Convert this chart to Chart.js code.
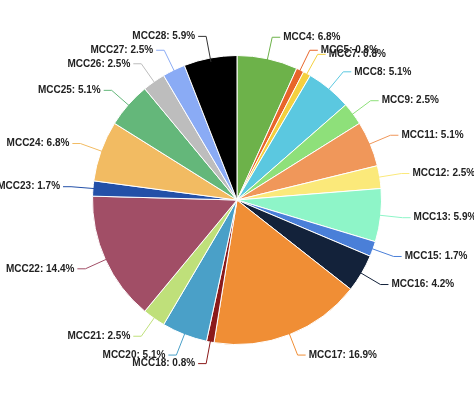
<!DOCTYPE html>
<html><head><script src="https://cdn.jsdelivr.net/npm/chart.js@4"></script>
<style>body{margin:0;background:#fff}#w{width:474px;height:408px}</style></head>
<body><div id="w"><canvas id="c"></canvas></div>
<script>
const labels=["MCC4","MCC5","MCC7","MCC8","MCC9","MCC11","MCC12","MCC13","MCC15","MCC16","MCC17","MCC18","MCC20","MCC21","MCC22","MCC23","MCC24","MCC25","MCC26","MCC27","MCC28"];
const counts=[8,1,1,6,3,6,3,7,2,5,20,1,6,3,17,2,8,6,3,3,7];
const pct=["6.8%","0.8%","0.8%","5.1%","2.5%","5.1%","2.5%","5.9%","1.7%","4.2%","16.9%","0.8%","5.1%","2.5%","14.4%","1.7%","6.8%","5.1%","2.5%","2.5%","5.9%"];
const colors=["#6db24a","#e8652a","#f4d03f","#5bc8e0","#8ee07a","#f0975a","#fbe97a","#8ef5c8","#4a7fd8","#13223a","#f08e35","#8b1a1a","#4aa0c8","#bfe07a","#a14e66","#2350a8","#f2bb62","#64b77a","#bdbdbd","#8aabf5","#000000"];
const labelPlugin={id:'lbl',afterDatasetsDraw(ch){
 const ctx=ch.ctx;const meta=ch.getDatasetMeta(0);
 ctx.save();ctx.font='bold 10px "Liberation Sans", Arial';ctx.textBaseline='middle';
 meta.data.forEach((a,i)=>{
  const ang=(a.startAngle+a.endAngle)/2;const r=a.outerRadius;
  const cx=a.x,cy=a.y;
  const x0=cx+Math.cos(ang)*(r-4),y0=cy+Math.sin(ang)*(r-4);
  const x1=cx+Math.cos(ang)*(r+22),y1=cy+Math.sin(ang)*(r+22);
  const right=Math.cos(ang)>=0;
  const x2=x1+(right?8:-8);
  ctx.strokeStyle=colors[i]==="#000000"?"#333":colors[i];ctx.lineWidth=1;
  ctx.beginPath();ctx.moveTo(x0,y0);ctx.lineTo(x1,y1);ctx.lineTo(x2,y1);ctx.stroke();
  ctx.fillStyle='#222';ctx.textAlign=right?'left':'right';
  ctx.fillText(labels[i]+': '+pct[i],x2+(right?3:-3),y1);
 });ctx.restore();}};
new Chart(document.getElementById('c'),{type:'pie',
 data:{labels,datasets:[{data:counts,backgroundColor:colors,borderColor:'#fff',borderWidth:1}]},
 options:{responsive:true,maintainAspectRatio:false,animation:false,
  layout:{padding:{top:55,bottom:63,left:92,right:92}},
  plugins:{legend:{display:false},tooltip:{enabled:false}}},
 plugins:[labelPlugin]});
</script></body></html>
